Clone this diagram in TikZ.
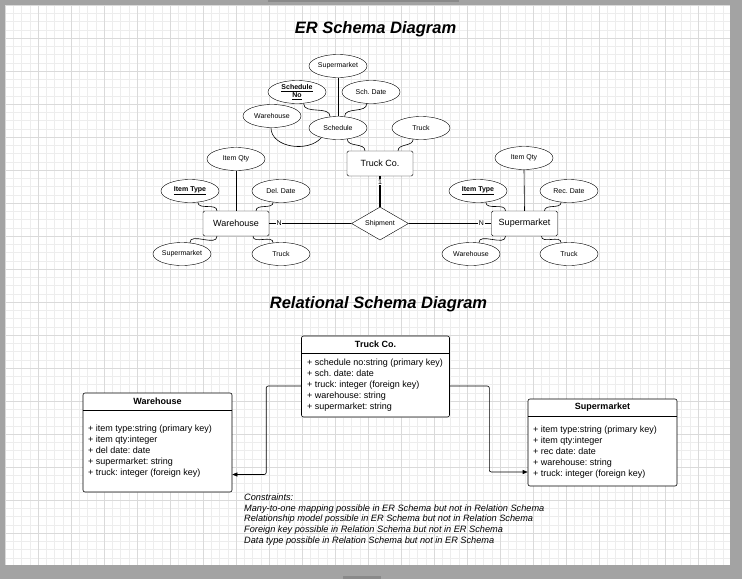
\documentclass[tikz,border=0pt]{standalone}
\usepackage{fontspec}
\setmainfont{Liberation Sans}
\usetikzlibrary{shapes.geometric,arrows.meta}
\frenchspacing
\definecolor{framegray}{HTML}{A3A3A3}
\definecolor{tabgray}{HTML}{8A8A8A}
\definecolor{minorgrid}{HTML}{EDEDED}
\definecolor{majorgrid}{HTML}{DADADA}
\tikzset{
  attr/.style={draw, ellipse, minimum width=58pt, minimum height=23pt, inner sep=0pt, font=\fontsize{7}{8}\selectfont, fill=white},
  keyattr/.style={attr, font=\fontsize{7}{8.5}\selectfont\bfseries, align=center},
  entity/.style={draw, rounded corners=1.5pt, fill=white, font=\fontsize{9}{10}\selectfont, inner sep=0pt},
  rel/.style={draw, diamond, aspect=1.7, minimum width=57pt, minimum height=33pt, inner sep=0pt, fill=white, font=\fontsize{7}{8}\selectfont},
  link/.style={line width=0.6pt},
  card/.style={fill=white, inner sep=0.6pt, font=\fontsize{7}{8}\selectfont},
  rbox/.style={draw, rounded corners=2pt, fill=white, line width=0.6pt, inner sep=0pt},
  rhead/.style={font=\fontsize{9}{10}\selectfont\bfseries, inner sep=0pt},
  rrows/.style={font=\fontsize{9}{11}\selectfont, align=left, anchor=north west, inner sep=0pt},
  rconn/.style={line width=0.6pt, rounded corners=2pt, -{Triangle[length=5pt,width=4pt]}},
  title/.style={font=\fontsize{16.5}{18}\selectfont\bfseries\itshape},
}
\begin{document}
\begin{tikzpicture}[x=1pt,y=-1pt]
% frame and page
\fill[framegray] (0,0) rectangle (742,579);
\fill[tabgray] (268,0) rectangle (459,2);
\fill[tabgray] (343,576) rectangle (381,579);
\useasboundingbox (0,0) rectangle (742,579);
\fill[white] (5,5.5) rectangle (730,565);
\begin{scope}
\clip (5,5.5) rectangle (730,565);
\foreach \i in {0,...,88} {
  \draw[minorgrid, line width=0.5pt] ({5+8.25*\i},5) -- ({5+8.25*\i},565);
}
\foreach \j in {0,...,68} {
  \draw[minorgrid, line width=0.5pt] (5,{5+8.25*\j}) -- (730,{5+8.25*\j});
}
\foreach \i in {0,...,22} {
  \draw[majorgrid, line width=0.6pt] ({5+33*\i},5) -- ({5+33*\i},565);
}
\foreach \j in {0,...,17} {
  \draw[majorgrid, line width=0.6pt] (5,{5+33*\j}) -- (730,{5+33*\j});
}
\end{scope}

% titles
\node[title] (t1) at (375.5,29.5) {ER Schema Diagram};
\node[title] (t2) at (378.5,304.5) {Relational Schema Diagram};

% ---------- ER schema ----------
\node[entity, minimum width=66pt, minimum height=25pt] (tc) at (380,163.5) {Truck Co.};
\node[attr] (schs) at (338,66) {Supermarket};
\node[keyattr] (schno) at (297,92) {\underline{Schedule}\\\underline{No}};
\node[attr] (schd) at (371,92) {Sch. Date};
\node[attr] (schw) at (272,116) {Warehouse};
\node[attr] (sch) at (338,128) {Schedule};
\node[attr] (tct) at (421,128) {Truck};

\node[rel] (ship) at (380,223.5) {Shipment};

\node[entity, minimum width=66pt, minimum height=25pt] (wh) at (236,223.5) {Warehouse};
\node[attr] (whq) at (236,159) {Item Qty};
\node[keyattr] (wht) at (190,191) {\underline{Item Type}};
\node[attr] (whd) at (281,191) {Del. Date};
\node[attr] (whs) at (182,254) {Supermarket};
\node[attr] (whk) at (281,254) {Truck};

\node[entity, minimum width=66pt, minimum height=25pt] (sm) at (524.5,223.5) {Supermarket};
\node[attr] (smq) at (524,158) {Item Qty};
\node[keyattr] (smt) at (478,191) {\underline{Item Type}};
\node[attr] (smd) at (569,191) {Rec. Date};
\node[attr] (smw) at (471,254) {Warehouse};
\node[attr] (smk) at (569,254) {Truck};

% schedule connectors
\draw[link] (schs.south) -- (sch.north);
\draw[link] (schno.-60) to[out=-90,in=90] (sch.125);
\draw[link] (schd.-110) to[out=-90,in=90] (sch.60);
\draw[link] (schw.-95) to[out=-90,in=-130] (sch.-150);
\draw[link] (sch.-50) to[out=-90,in=90] ([xshift=-15pt]tc.north);
\draw[link] (tct.-125) to[out=-90,in=90] ([xshift=18pt]tc.north);

% relationship
\draw[line width=1.3pt] (tc.south) -- (ship.north) node[card, pos=0.2] {1};
\draw[link] (wh.east) -- (ship.west) node[card, pos=0.12] {N};
\draw[link] (ship.east) -- (sm.west) node[card, pos=0.88] {N};

% warehouse attributes
\draw[link] (whq.south) -- (wh.north);
\draw[link] (wht.-55) to[out=-90,in=90] ([xshift=-19pt]wh.north);
\draw[link] (whd.-125) to[out=-90,in=90] ([xshift=20pt]wh.north);
\draw[link] ([xshift=-19pt]wh.south) to[out=-90,in=90] (whs.55);
\draw[link] ([xshift=17pt]wh.south) to[out=-90,in=90] (whk.125);

% supermarket attributes
\draw[link] (smq.south) -- (sm.north);
\draw[link] (smt.-55) to[out=-90,in=90] ([xshift=-19pt]sm.north);
\draw[link] (smd.-125) to[out=-90,in=90] ([xshift=20pt]sm.north);
\draw[link] ([xshift=-19pt]sm.south) to[out=-90,in=90] (smw.55);
\draw[link] ([xshift=17pt]sm.south) to[out=-90,in=90] (smk.125);

% ---------- Relational schema ----------
% Truck Co.
\node[rbox, minimum width=148pt, minimum height=81pt] (tcr) at (375.5,376.5) {};
\draw[line width=0.6pt] (302,353) -- (449,353);
\node[rhead] (tcrh) at (375.5,344) {Truck Co.};
\node[rrows] (tcrr) at (307,359) {+ schedule no:string (primary key)\\+ sch. date: date\\+ truck: integer (foreign key)\\+ warehouse: string\\+ supermarket: string};

% Warehouse
\node[rbox, minimum width=149pt, minimum height=99pt] (whr) at (157.5,442.5) {};
\draw[line width=0.6pt] (83,410.5) -- (232,410.5);
\node[rhead] (whrh) at (157.5,401) {Warehouse};
\node[rrows] (whrr) at (88,425) {+ item type:string (primary key)\\+ item qty:integer\\+ del date: date\\+ supermarket: string\\+ truck: integer (foreign key)};

% Supermarket
\node[rbox, minimum width=149pt, minimum height=87pt] (smr) at (602.5,442.5) {};
\draw[line width=0.6pt] (528,416) -- (677,416);
\node[rhead] (smrh) at (602.5,407.5) {Supermarket};
\node[rrows] (smrr) at (533,426) {+ item type:string (primary key)\\+ item qty:integer\\+ rec date: date\\+ warehouse: string\\+ truck: integer (foreign key)};

\draw[rconn] ([yshift=-9.5pt]tcr.west) -- ++(-35,0) |- ([yshift=-32pt]whr.east);
\draw[rconn] ([yshift=-9.5pt]tcr.east) -- ++(39.5,0) |- ([yshift=-29.5pt]smr.west);

% constraints
\node[font=\fontsize{9.2}{10.8}\selectfont\itshape, align=left, anchor=north west, inner sep=0pt] (cons) at (244,493.5) {Constraints:\\Many-to-one mapping possible in ER Schema but not in Relation Schema\\Relationship model possible in ER Schema but not in Relation Schema\\Foreign key possible in Relation Schema but not in ER Schema\\Data type possible in Relation Schema but not in ER Schema};
\end{tikzpicture}
\end{document}
